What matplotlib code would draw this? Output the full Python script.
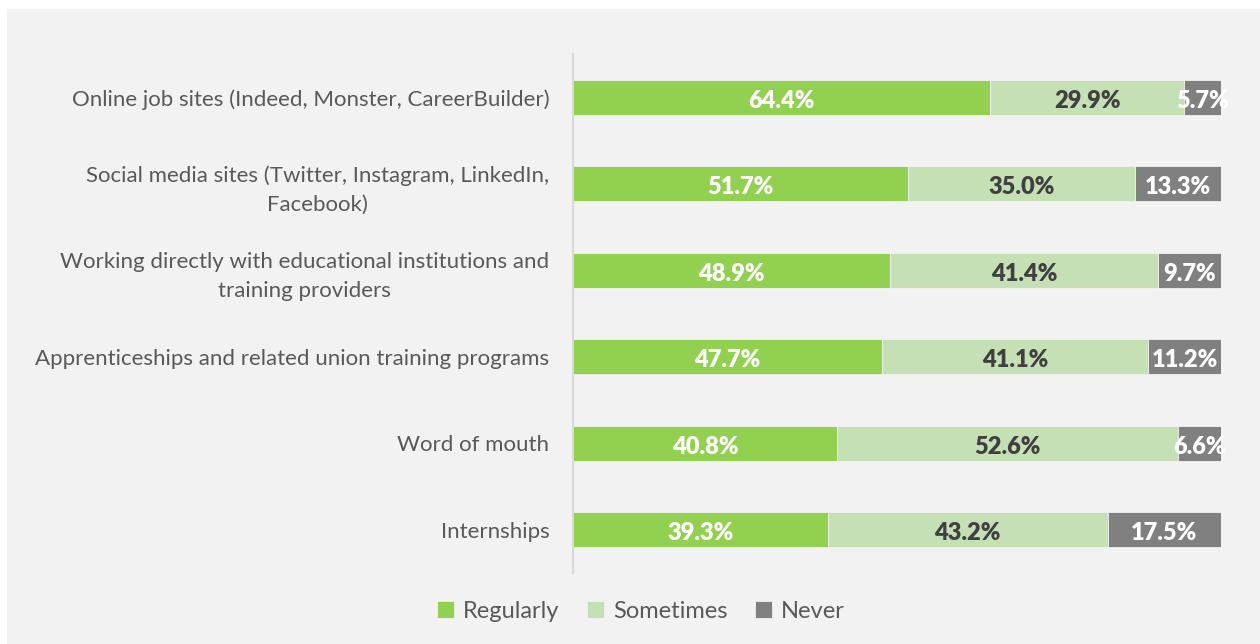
import matplotlib
matplotlib.use("Agg")
import matplotlib.pyplot as plt
from matplotlib.patches import Rectangle
import numpy as np

categories = [
    "Online job sites (Indeed, Monster, CareerBuilder)",
    "Social media sites (Twitter, Instagram, LinkedIn,\nFacebook)",
    "Working directly with educational institutions and\ntraining providers",
    "Apprenticeships and related union training programs",
    "Word of mouth",
    "Internships",
]
regularly = [64.4, 51.7, 48.9, 47.7, 40.8, 39.3]
sometimes = [29.9, 35.0, 41.4, 41.1, 52.6, 43.2]
never = [5.7, 13.3, 9.7, 11.2, 6.6, 17.5]
series_names = ["Regularly", "Sometimes", "Never"]

colors = ["#92d050", "#c5e0b4", "#808080"]
label_colors = ["white", "#404040", "white"]

plt.rcParams["font.family"] = ["Lato", "DejaVu Sans"]

fig = plt.figure(figsize=(12.6, 6.44), dpi=100)
fig.patch.set_facecolor("white")
# grey chart area
fig.patches.append(Rectangle((7 / 1260, 0), 1 - 7 / 1260, 1 - 9 / 644,
                             transform=fig.transFigure, facecolor="#f2f2f2",
                             edgecolor="none", zorder=-10))

ax = fig.add_axes([573 / 1260, 1 - 573 / 644, (1221 - 573) / 1260, (573 - 54) / 644])
ax.set_facecolor("none")

y = np.arange(len(categories))
left = np.zeros(len(categories))
for vals, name, c, lc in zip([regularly, sometimes, never], series_names, colors, label_colors):
    bars = ax.barh(y, vals, left=left, height=0.41, color=c, label=name,
                   edgecolor="#f2f2f2", linewidth=0.6)
    texts = ax.bar_label(bars, labels=[f"{v:.1f}%" for v in vals], label_type="center",
                         color=lc, fontsize=17, fontweight="heavy")
    # nudge value labels slightly below the bar centre
    for t in texts:
        t.xyann = (0, -2.5)
    left += np.array(vals)

ax.set_xlim(0, 100)
ax.set_ylim(len(categories) - 0.5, -0.5)
ax.set_yticks(y)
ax.set_yticklabels(categories, fontsize=16, color="#595959",
                   multialignment="center", linespacing=1.55)
ax.tick_params(axis="y", length=0, pad=17)
ax.set_xticks([])
for s in ["top", "right", "bottom"]:
    ax.spines[s].set_visible(False)
ax.spines["left"].set_color("#d9d9d9")
ax.spines["left"].set_linewidth(1.5)

leg = fig.legend(loc="center", bbox_to_anchor=(641 / 1260, 1 - 611 / 644), ncol=3,
                 frameon=False, fontsize=17, handlelength=0.72, handleheight=0.72,
                 handletextpad=0.4, columnspacing=1.15)
for t in leg.get_texts():
    t.set_color("#595959")

fig.savefig("out.png", dpi=100, facecolor=fig.get_facecolor())
